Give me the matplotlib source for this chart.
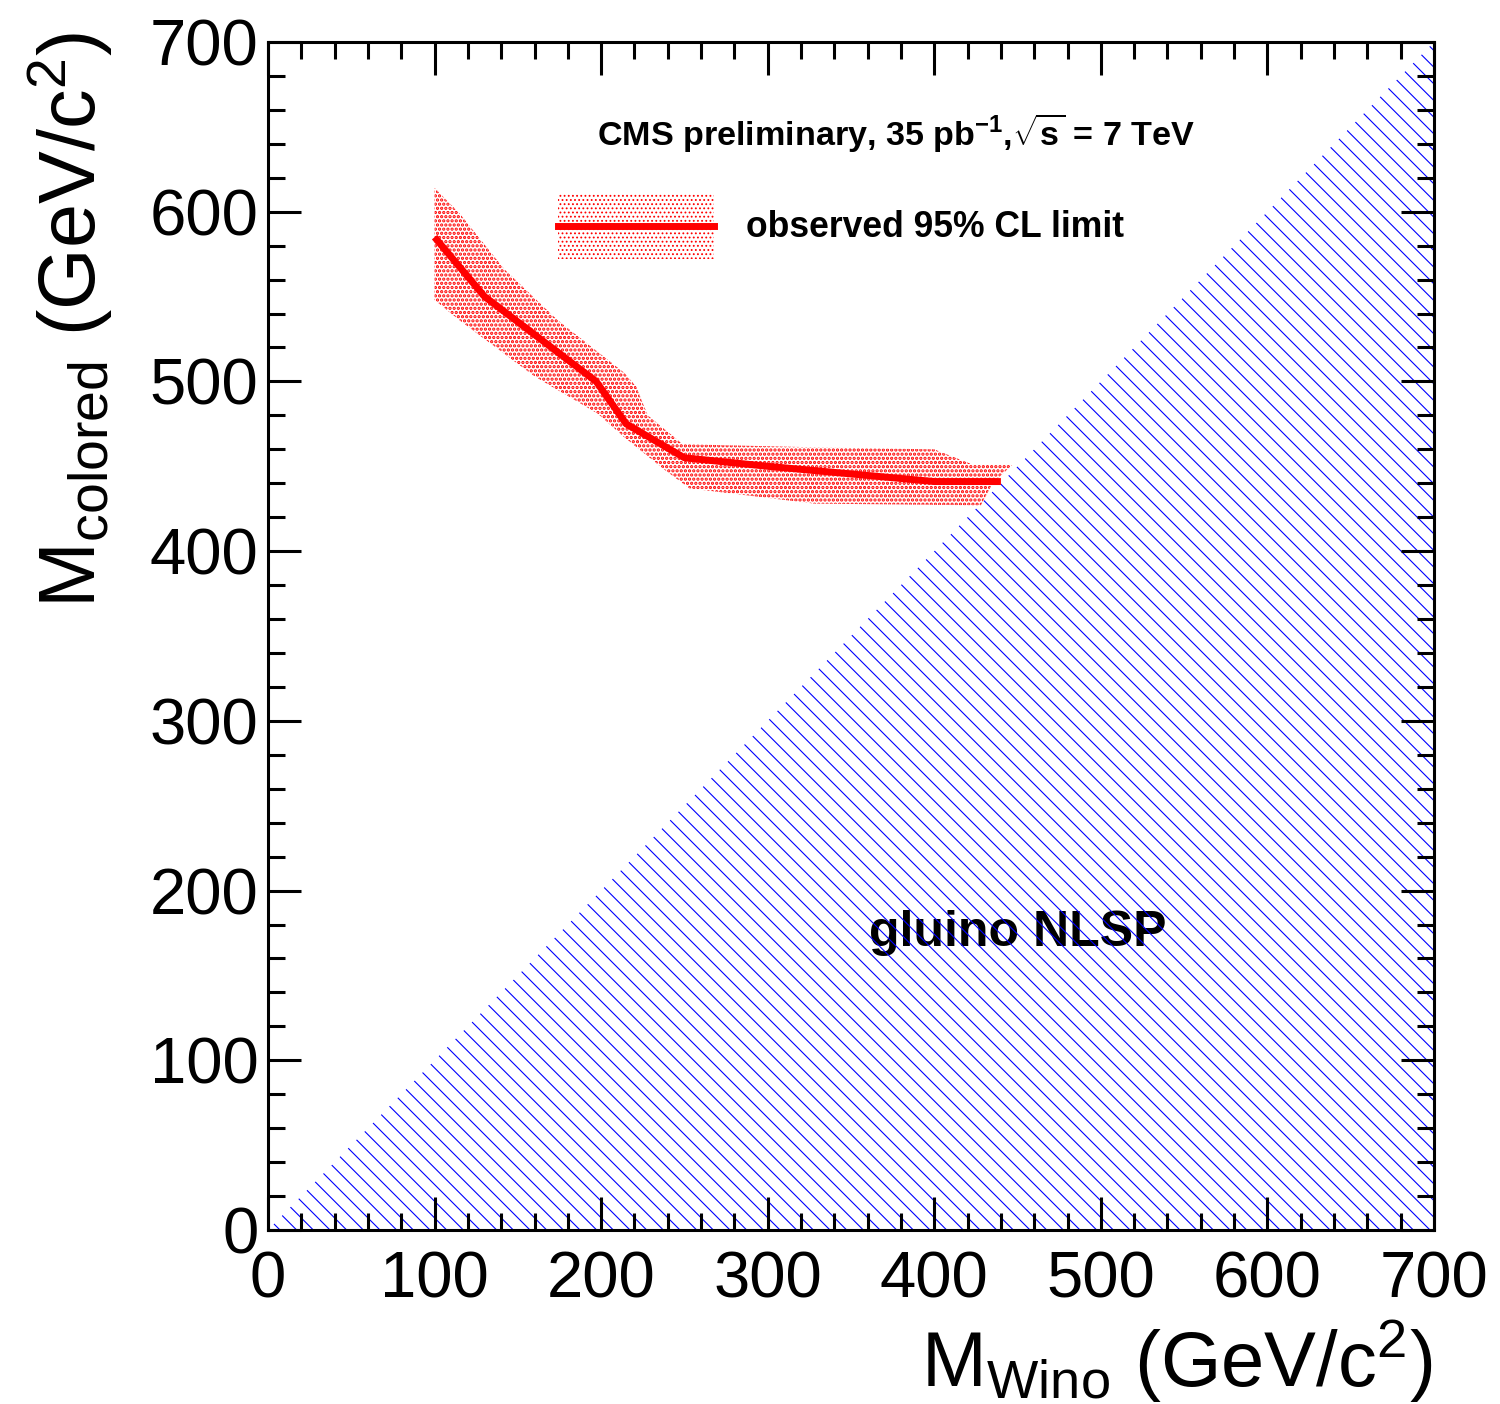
import numpy as np
import matplotlib
matplotlib.use("Agg")
import matplotlib.pyplot as plt
from matplotlib.patches import Patch
from matplotlib.lines import Line2D
from matplotlib.legend_handler import HandlerLine2D
from matplotlib.ticker import MultipleLocator

# fonts: Helvetica-like
plt.rcParams['font.family'] = ['Liberation Sans', 'DejaVu Sans']
plt.rcParams['mathtext.fontset'] = 'custom'
plt.rcParams['mathtext.rm'] = 'Liberation Sans'
plt.rcParams['mathtext.it'] = 'Liberation Sans:italic'
plt.rcParams['mathtext.bf'] = 'Liberation Sans:bold'
plt.rcParams['hatch.linewidth'] = 0.8

# observed limit line
limit_x = [100, 130, 197, 215, 250, 300, 400, 440]
limit_y = [585, 550, 500, 475, 455, 450, 441, 441]

# uncertainty band edges
band_up_x = [100, 115, 142, 174, 214, 221, 228, 249, 336, 400, 423, 447]
band_up_y = [614, 599, 566, 536, 505, 497, 480, 463, 461, 460, 451, 451]
band_lo_x = [100, 115, 160, 198, 214, 238, 253, 328, 428, 435, 447]
band_lo_y = [548, 536, 503, 481, 467, 448, 437, 428, 427, 440, 451]

# excluded region: M_colored < M_Wino
diag_x = [0, 700]
diag_y = [0, 700]


def thick_dots(artist, lw=1.6):
    # make the red dot pattern heavier than the blue hatch lines if possible
    if hasattr(artist, 'set_hatch_linewidth'):
        artist.set_hatch_linewidth(lw)


class CenterLine(HandlerLine2D):
    # put the legend line in the middle of the band box
    def create_artists(self, legend, orig_handle, xdescent, ydescent,
                       width, height, fontsize, trans):
        artists = super().create_artists(legend, orig_handle, xdescent, ydescent,
                                         width, height, fontsize, trans)
        yc = height / 2 - ydescent
        for a in artists:
            a.set_ydata([yc] * len(a.get_xdata()))
        return artists


fig = plt.figure(figsize=(15, 14.04), dpi=100)
ax = fig.add_axes([268 / 1500, 1 - 1230 / 1404, 1166 / 1500, 1188 / 1404])

# blue hatched triangle
ax.fill_between(diag_x, 0, diag_y, facecolor='none', edgecolor='#0000ff',
                hatch='\\\\', linewidth=0, zorder=1)

# red dotted band
poly_x = band_up_x + band_lo_x[::-1]
poly_y = band_up_y + band_lo_y[::-1]
band = ax.fill(poly_x, poly_y, facecolor='none', edgecolor='#ff0000', hatch='....',
               linewidth=0, zorder=2)[0]
thick_dots(band)
ax.plot(limit_x, limit_y, color='#ff0000', lw=5, solid_capstyle='butt', zorder=3)

ax.set_xlim(0, 700)
ax.set_ylim(0, 700)
ax.xaxis.set_major_locator(MultipleLocator(100))
ax.xaxis.set_minor_locator(MultipleLocator(20))
ax.yaxis.set_major_locator(MultipleLocator(100))
ax.yaxis.set_minor_locator(MultipleLocator(20))
ax.tick_params(which='both', direction='in', top=True, right=True, width=2.2)
ax.tick_params(which='major', length=24, labelsize=47)
ax.tick_params(which='minor', length=12)
ax.tick_params(axis='x', which='major', pad=15)
ax.tick_params(axis='y', which='major', pad=7)
for s in ax.spines.values():
    s.set_linewidth(2.2)

# legend
band_handle = Patch(facecolor='none', edgecolor='#ff0000', hatch='....', linewidth=0)
thick_dots(band_handle)
line_handle = Line2D([], [], color='#ff0000', lw=5)
leg = ax.legend(handles=[(band_handle, line_handle)], labels=['observed 95% CL limit'],
                handler_map={Line2D: CenterLine()},
                loc='upper left', bbox_to_anchor=(0.2487, 0.873), frameon=False,
                borderpad=0, borderaxespad=0, handlelength=4.4, handleheight=2.5,
                handletextpad=0.9, prop={'size': 25.6, 'weight': 'bold'})

ax.text(377, 646, r'CMS preliminary, 35 pb$^{\mathbf{-1}}$,$\sqrt{\mathbf{s}}$ = 7 TeV',
        fontsize=24.6, fontweight='bold', ha='center', va='center')
ax.text(450, 175, 'gluino NLSP', fontsize=36, fontweight='bold', color='black',
        ha='center', va='center', zorder=0.5)

fig.text(1432 / 1500, (1404 - 1387) / 1404, r'M$_{\mathrm{Wino}}$ (GeV/c$^{\mathrm{2}}$)',
         fontsize=56, ha='right', va='baseline')
fig.text(70 / 1500, 1 - 32 / 1404, r'M$_{\mathrm{colored}}$ (GeV/c$^{\mathrm{2}}$)',
         fontsize=57, rotation=90, ha='center', va='top')

fig.savefig('out.png', dpi=100)
